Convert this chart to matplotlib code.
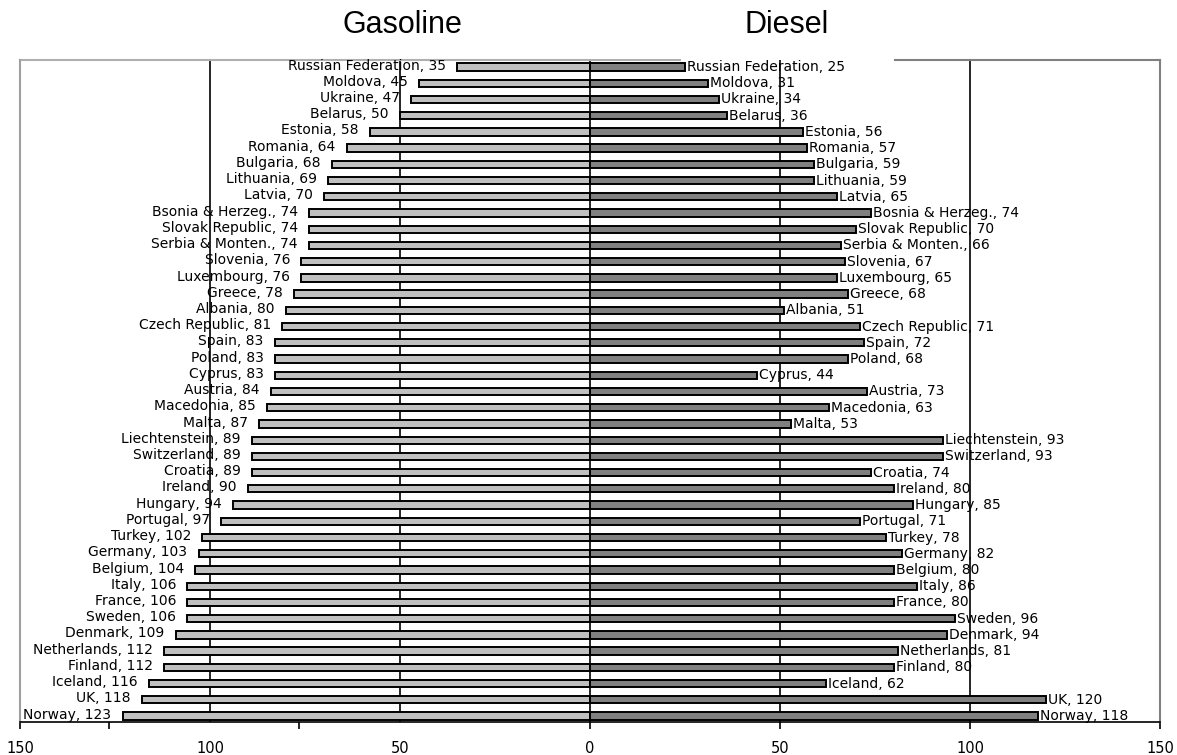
import matplotlib
matplotlib.use("Agg")
import matplotlib.pyplot as plt
import numpy as np

# countries top to bottom, as printed on each side
gas_names = ["Russian Federation", "Moldova", "Ukraine", "Belarus", "Estonia",
             "Romania", "Bulgaria", "Lithuania", "Latvia", "Bsonia & Herzeg.",
             "Slovak Republic", "Serbia & Monten.", "Slovenia", "Luxembourg",
             "Greece", "Albania", "Czech Republic", "Spain", "Poland", "Cyprus",
             "Austria", "Macedonia", "Malta", "Liechtenstein", "Switzerland",
             "Croatia", "Ireland", "Hungary", "Portugal", "Turkey", "Germany",
             "Belgium", "Italy", "France", "Sweden", "Denmark", "Netherlands",
             "Finland", "Iceland", "UK", "Norway"]
diesel_names = list(gas_names)
diesel_names[9] = "Bosnia & Herzeg."

gasoline = [35, 45, 47, 50, 58, 64, 68, 69, 70, 74, 74, 74, 76, 76, 78, 80, 81,
            83, 83, 83, 84, 85, 87, 89, 89, 89, 90, 94, 97, 102, 103, 104, 106,
            106, 106, 109, 112, 112, 116, 118, 123]
diesel = [25, 31, 34, 36, 56, 57, 59, 59, 65, 74, 70, 66, 67, 65, 68, 51, 71,
          72, 68, 44, 73, 63, 53, 93, 93, 74, 80, 85, 71, 78, 82, 80, 86, 80,
          96, 94, 81, 80, 62, 120, 118]

grid_x = [-100, -50, 0, 50, 100]
tick_marks = [-150, -126.6, -76.6, 0, 50, 100, 150]
label_pos = [-150, -100, -50, 0, 50, 100, 150]
label_txt = ["150", "100", "50", "0", "50", "100", "150"]

fig = plt.figure(figsize=(11.77, 7.55), dpi=100)
ax = fig.add_axes([20 / 1177, 1 - 722 / 755, 1140 / 1177, 662 / 755])

y = np.arange(len(gas_names))
for gx in grid_x:
    ax.axvline(gx, color="black", lw=1.2, zorder=1)

ax.barh(y, -np.array(gasoline), height=0.45, color="#c0c0c0",
        edgecolor="black", linewidth=1.4, zorder=2)
ax.barh(y, diesel, height=0.45, color="#808080",
        edgecolor="black", linewidth=1.4, zorder=2)

for i in range(len(y)):
    ax.annotate("%s, %d" % (gas_names[i], gasoline[i]), (-gasoline[i], y[i]),
                xytext=(-8, 1), textcoords="offset points", ha="right",
                va="center", fontsize=10, color="black", zorder=3)
    ax.annotate("%s, %d" % (diesel_names[i], diesel[i]), (diesel[i], y[i]),
                xytext=(1.5, 0), textcoords="offset points", ha="left",
                va="center", fontsize=10, color="black", zorder=3)

ax.set_xlim(-150, 150)
ax.set_ylim(len(y) - 1 + 0.37, -0.43)

# tick labels on major ticks, the (offset) tick marks on minor ones
ax.xaxis.remove_overlapping_locs = False
ax.set_xticks(label_pos)
ax.set_xticklabels(label_txt, fontsize=10.5)
ax.tick_params(axis="x", which="major", length=0, pad=14)
ax.set_xticks(tick_marks, minor=True)
ax.tick_params(axis="x", which="minor", direction="out", length=5,
               width=1.2, color="black")
ax.set_yticks([])

ax.spines["bottom"].set_color("black")
ax.spines["bottom"].set_linewidth(1.2)
ax.spines["left"].set_color("#a0a0a0")
ax.spines["left"].set_linewidth(1.5)
ax.spines["right"].set_color("#808080")
ax.spines["right"].set_linewidth(1.5)
ax.spines["top"].set_visible(False)
ax.axhline(-0.43, xmin=0, xmax=0.579, color="#b0b0b0", lw=1.5, clip_on=False)
ax.axhline(-0.43, xmin=0.7675, xmax=1, color="#808080", lw=1.5, clip_on=False)

fig.text(402 / 1177, 1 - 25 / 755, "Gasoline", ha="center", va="center",
         fontsize=22, family="Liberation Sans")
fig.text(787 / 1177, 1 - 25 / 755, "Diesel", ha="center", va="center",
         fontsize=22, family="Liberation Sans")

fig.savefig("out.png", dpi=100)
